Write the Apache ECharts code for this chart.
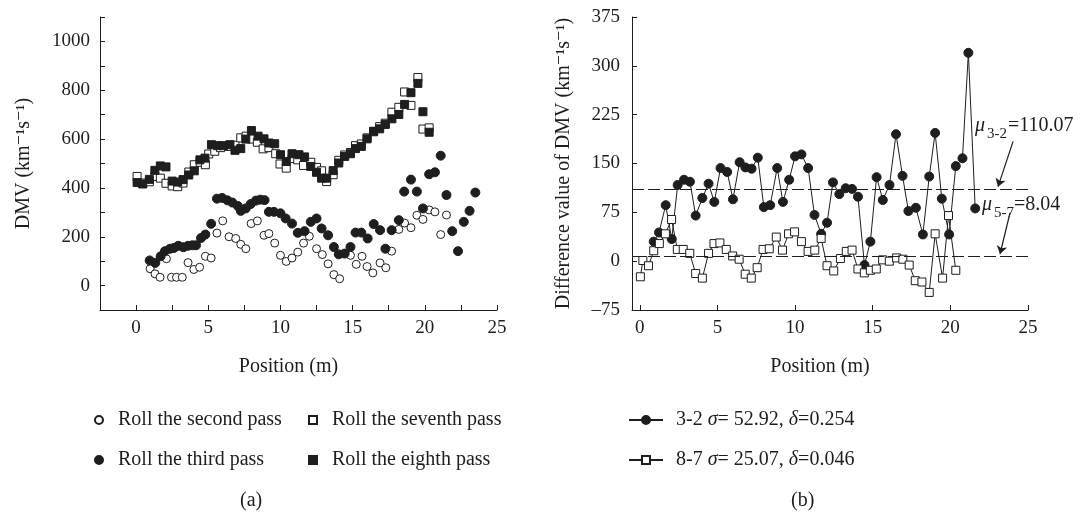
<!DOCTYPE html>
<html>
<head>
<meta charset="utf-8">
<script src="https://cdn.jsdelivr.net/npm/echarts@6/dist/echarts.min.js"></script>
<style>
  html, body { margin: 0; padding: 0; background: #fff; }
  #chart { width: 1081px; height: 514px; }
</style>
</head>
<body>
<div id="chart"></div>
<script>
// (a) DMV per pass, [position m, DMV]
const pass2 = [[0.97, 69], [1.31, 48], [1.66, 34], [2.1, 110], [2.45, 34], [2.8, 34], [3.2, 34], [3.6, 94], [4.0, 66], [4.4, 75],
  [4.8, 120], [5.2, 113], [5.6, 215], [6.0, 265], [6.44, 200], [6.9, 193], [7.25, 169], [7.6, 151], [7.97, 254], [8.4, 265],
  [8.86, 206], [9.2, 213], [9.6, 174], [10.0, 124], [10.4, 99], [10.8, 113], [11.2, 137], [11.6, 174], [12.0, 202], [12.5, 151],
  [12.9, 127], [13.3, 89], [13.7, 45], [14.1, 28], [14.85, 124], [15.25, 87], [15.65, 120], [16.0, 78], [16.4, 52], [16.9, 93],
  [17.3, 73], [17.7, 141], [18.2, 230], [18.6, 256], [19.04, 237], [19.45, 288], [19.87, 271], [20.3, 310], [20.7, 302],
  [21.1, 209], [21.5, 289]]
const pass3 = [[0.94, 103], [1.33, 93], [1.7, 120], [2.0, 141], [2.35, 151], [2.62, 154], [2.92, 163], [3.27, 157], [3.6, 163],
  [3.9, 165], [4.15, 165], [4.5, 195], [4.8, 209], [5.2, 253], [5.6, 356], [5.96, 359], [6.33, 349], [6.67, 340], [7.05, 326],
  [7.25, 306], [7.6, 316], [7.94, 334], [8.3, 348], [8.6, 352], [8.9, 350], [9.2, 302], [9.55, 302], [10.0, 296], [10.36, 275],
  [10.8, 254], [11.2, 216], [11.67, 223], [12.1, 261], [12.5, 275], [12.85, 234], [13.3, 206], [13.7, 158], [14.04, 128],
  [14.45, 131], [14.85, 158], [15.2, 217], [15.6, 217], [16.04, 193], [16.46, 252], [16.9, 227], [17.27, 151], [17.7, 227],
  [18.2, 268], [18.57, 385], [19.04, 434], [19.45, 385], [19.87, 316], [20.3, 456], [20.7, 464], [21.1, 532], [21.5, 371],
  [21.9, 223], [22.3, 141], [22.7, 261], [23.1, 306], [23.5, 381]]
const pass7 = [[0.07, 447], [0.46, 420], [0.92, 425], [1.3, 447], [1.68, 440], [2.07, 419], [2.5, 408], [2.88, 405], [3.25, 420],
  [3.65, 465], [4.03, 495], [4.44, 505], [4.8, 495], [5.03, 539], [5.45, 550], [5.85, 565], [6.45, 570], [6.85, 575], [7.25, 605],
  [7.62, 612], [8.0, 600], [8.4, 587], [8.8, 560], [9.2, 565], [9.67, 540], [9.97, 498], [10.4, 481], [10.8, 520], [11.2, 515],
  [11.6, 492], [12.1, 505], [12.5, 484], [12.85, 470], [13.2, 426], [13.65, 454], [14.04, 513], [14.45, 535], [14.85, 545],
  [15.2, 573], [15.6, 580], [16.0, 605], [16.45, 630], [16.87, 651], [17.26, 665], [17.72, 710], [18.2, 730], [18.6, 793],
  [19.04, 738], [19.52, 852], [19.87, 641], [20.3, 646]]
const pass8 = [[0.07, 422], [0.46, 416], [0.92, 435], [1.3, 472], [1.68, 490], [2.07, 486], [2.5, 428], [2.88, 424], [3.25, 434],
  [3.65, 453], [4.03, 470], [4.42, 515], [4.77, 522], [5.22, 577], [5.64, 573], [6.05, 573], [6.5, 577], [6.85, 554], [7.25, 561],
  [7.6, 600], [7.99, 635], [8.45, 612], [8.86, 601], [9.2, 584], [9.6, 581], [10.0, 536], [10.4, 508], [10.8, 540], [11.28, 536],
  [11.67, 527], [12.1, 488], [12.5, 464], [12.85, 440], [13.2, 440], [13.65, 471], [14.04, 502], [14.45, 529], [14.85, 540],
  [15.2, 561], [15.6, 570], [16.0, 601], [16.45, 632], [16.87, 642], [17.26, 660], [17.72, 683], [18.2, 701], [18.6, 742],
  [19.04, 790], [19.52, 828], [19.87, 712], [20.3, 628]]

// (b) difference of DMV, [position m, difference]
const diff32 = [[0.9, 30], [1.24, 44], [1.67, 86], [2.06, 34], [2.44, 117], [2.85, 125], [3.23, 122], [3.6, 70], [4.03, 97],
  [4.43, 119], [4.8, 91], [5.2, 143], [5.63, 137], [6.0, 95], [6.43, 152], [6.8, 144], [7.2, 142], [7.6, 159], [7.99, 83],
  [8.4, 86], [8.85, 143], [9.22, 91], [9.62, 125], [10.0, 161], [10.41, 164], [10.84, 143], [11.25, 71], [11.68, 42],
  [12.06, 59], [12.44, 121], [12.85, 103], [13.26, 112], [13.67, 111], [14.05, 99], [14.47, -6], [14.85, 30], [15.25, 129],
  [15.65, 94], [16.08, 117], [16.5, 195], [16.92, 131], [17.3, 77], [17.78, 82], [18.23, 41], [18.64, 130], [19.02, 197],
  [19.45, 96], [19.92, 41], [20.35, 146], [20.78, 158], [21.16, 320], [21.6, 81]]
const diff87 = [[0.04, -24], [0.2, 1], [0.56, -7], [0.9, 16], [1.26, 27], [1.65, 42], [2.05, 64], [2.42, 18], [2.8, 18],
  [3.22, 12], [3.6, -19], [4.03, -26], [4.43, 12], [4.78, 27], [5.16, 28], [5.57, 18], [5.98, 8], [6.4, 3], [6.79, -20],
  [7.18, -26], [7.56, -10], [7.94, 18], [8.34, 19], [8.79, 37], [9.19, 17], [9.58, 42], [9.97, 45], [10.41, 30], [10.84, 15],
  [11.27, 17], [11.68, 35], [12.06, -7], [12.49, -15], [12.92, 4], [13.3, 15], [13.67, 17], [14.05, -12], [14.46, -18],
  [14.85, -14], [15.23, -12], [15.64, 2], [16.07, 0], [16.54, 5], [16.94, 3], [17.35, -6], [17.74, -30], [18.17, -32],
  [18.64, -48], [19.02, 42], [19.5, -26], [19.88, 70], [20.35, -14]]
const means = [110.07, 8.04]
const meanArrows = [[[24.04, 184], [23.07, 114.4]], [[23.84, 74], [23.2, 11]]]

// axis ticks and labels
const leftXLabels = [0, 5, 10, 15, 20, 25]
const leftXTicks = [0, 2.5, 5, 7.5, 10, 12.5, 15, 17.5, 20, 22.5, 25]
const leftYLabels = [0, 200, 400, 600, 800, 1000]
const leftYTicks = [0, 100, 200, 300, 400, 500, 600, 700, 800, 900, 1000, 1100]
const rightXLabels = [0, 5, 10, 15, 20, 25]

const INK = '#1e1e1e'
const FONT = '"Liberation Serif", "DejaVu Serif", serif'

const chart = echarts.init(document.getElementById('chart'))

const axisBase = (extra) => Object.assign({
  type: 'value',
  splitLine: { show: false },
  axisLine: { show: true, onZero: false, lineStyle: { color: INK, width: 1 } },
  nameTextStyle: { color: INK, fontFamily: FONT, fontSize: 20 }
}, extra)

const tick = (values) => ({ show: true, inside: true, length: 5, customValues: values, lineStyle: { color: INK, width: 1 } })
const label = (values, margin, fmt) => ({
  customValues: values, margin: margin, color: INK, fontFamily: FONT, fontSize: 19,
  formatter: fmt || (v => String(v))
})

const open = { color: '#fff', borderColor: INK, borderWidth: 1, opacity: 1 }
const filled = { color: INK, borderColor: INK, borderWidth: 1, opacity: 1 }

const legendText = { color: INK, fontFamily: FONT, fontSize: 20, lineHeight: 20, padding: [0, 0, 0, 10] }

const option = {
  animation: false,
  grid: [
    { left: 100, top: 17, width: 397, height: 293 },
    { left: 632, top: 17, width: 396, height: 293 }
  ],
  xAxis: [
    axisBase({
      gridIndex: 0, min: -2.5, max: 25,
      axisTick: tick(leftXTicks), axisLabel: label(leftXLabels, 9),
      name: 'Position (m)', nameLocation: 'middle', nameGap: 47,
      nameTextStyle: { color: INK, fontFamily: FONT, fontSize: 20, padding: [0, 20, 0, 0] }
    }),
    axisBase({
      gridIndex: 1, min: -0.5, max: 25,
      axisTick: tick(rightXLabels), axisLabel: label(rightXLabels, 9),
      name: 'Position (m)', nameLocation: 'middle', nameGap: 47,
      nameTextStyle: { color: INK, fontFamily: FONT, fontSize: 20, padding: [0, 20, 0, 0] }
    })
  ],
  yAxis: [
    axisBase({
      gridIndex: 0, min: -100, max: 1100,
      axisTick: tick(leftYTicks), axisLabel: label(leftYLabels, 10),
      name: 'DMV (km\u207B\u00B9s\u207B\u00B9)', nameLocation: 'middle', nameGap: 66
    }),
    axisBase({
      gridIndex: 1, min: -75, max: 375, interval: 75,
      axisTick: { show: true, inside: true, length: 5, lineStyle: { color: INK, width: 1 } },
      axisLabel: { margin: 12, color: INK, fontFamily: FONT, fontSize: 19, formatter: v => v < 0 ? '\u2013' + Math.abs(v) : String(v) },
      name: 'Difference value of DMV (km\u207B\u00B9s\u207B\u00B9)', nameLocation: 'middle', nameGap: 58
    })
  ],
  legend: [
    {
      data: ['Roll the second pass', 'Roll the third pass'], orient: 'vertical', left: 94, top: 410,
      padding: 0, itemGap: 20, itemWidth: 8, itemHeight: 8, selectedMode: false, textStyle: legendText
    },
    {
      data: ['Roll the seventh pass', 'Roll the eighth pass'], orient: 'vertical', left: 308, top: 410,
      padding: 0, itemGap: 20, itemWidth: 8, itemHeight: 8, selectedMode: false, textStyle: legendText
    },
    {
      data: ['3-2', '8-7'], orient: 'vertical', left: 628, top: 410,
      padding: 0, itemGap: 20, itemWidth: 34, itemHeight: 10, selectedMode: false,
      formatter: name => name === '3-2'
        ? '{n|3-2 }{i|\u03C3}{n|= 52.92, }{i|\u03B4}{n|=0.254}'
        : '{n|8-7 }{i|\u03C3}{n|= 25.07, }{i|\u03B4}{n|=0.046}',
      textStyle: {
        color: INK, fontFamily: FONT, fontSize: 20, lineHeight: 20, padding: [0, 0, 0, 8],
        rich: {
          n: { color: INK, fontFamily: FONT, fontSize: 20 },
          i: { color: INK, fontFamily: FONT, fontSize: 20, fontStyle: 'italic' }
        }
      }
    }
  ],
  graphic: [
    { type: 'text', left: 240, top: 491, style: { text: '(a)', fill: INK, font: '20px ' + FONT } },
    { type: 'text', left: 791, top: 491, style: { text: '(b)', fill: INK, font: '20px ' + FONT } },
    { type: 'text', x: 975, y: 126, style: { text: '\u03BC', fill: INK, font: 'italic 20px ' + FONT, verticalAlign: 'middle' } },
    { type: 'text', x: 987, y: 134, style: { text: '3-2', fill: INK, font: '15px ' + FONT, verticalAlign: 'middle' } },
    { type: 'text', x: 1008, y: 126, style: { text: '=110.07', fill: INK, font: '20px ' + FONT, verticalAlign: 'middle' } },
    { type: 'text', x: 982, y: 205, style: { text: '\u03BC', fill: INK, font: 'italic 20px ' + FONT, verticalAlign: 'middle' } },
    { type: 'text', x: 994, y: 213, style: { text: '5-7', fill: INK, font: '15px ' + FONT, verticalAlign: 'middle' } },
    { type: 'text', x: 1014, y: 205, style: { text: '=8.04', fill: INK, font: '20px ' + FONT, verticalAlign: 'middle' } }
  ],
  series: [
    { type: 'scatter', name: 'Roll the second pass', xAxisIndex: 0, yAxisIndex: 0, data: pass2, symbol: 'circle', symbolSize: 8, itemStyle: open },
    { type: 'scatter', name: 'Roll the seventh pass', xAxisIndex: 0, yAxisIndex: 0, data: pass7, symbol: 'rect', symbolSize: 8, itemStyle: open },
    { type: 'scatter', name: 'Roll the third pass', xAxisIndex: 0, yAxisIndex: 0, data: pass3, symbol: 'circle', symbolSize: 9, itemStyle: filled },
    { type: 'scatter', name: 'Roll the eighth pass', xAxisIndex: 0, yAxisIndex: 0, data: pass8, symbol: 'rect', symbolSize: 8, itemStyle: filled },
    {
      type: 'line', name: '3-2', xAxisIndex: 1, yAxisIndex: 1, data: diff32,
      symbol: 'circle', symbolSize: 9, showAllSymbol: true,
      lineStyle: { color: INK, width: 1 }, itemStyle: filled,
      markLine: {
        silent: true, symbol: ['none', 'none'], label: { show: false },
        lineStyle: { color: INK, width: 1, type: [12, 4] },
        data: means.map(v => ({ yAxis: v }))
      }
    },
    {
      type: 'line', name: '8-7', xAxisIndex: 1, yAxisIndex: 1, data: diff87,
      symbol: 'rect', symbolSize: 8, showAllSymbol: true,
      lineStyle: { color: INK, width: 1 }, itemStyle: open,
      markLine: {
        silent: true, symbol: ['none', 'arrow'], symbolSize: 8, label: { show: false },
        lineStyle: { color: INK, width: 1.2, type: 'solid' },
        data: meanArrows.map(a => [{ coord: a[0] }, { coord: a[1] }])
      }
    }
  ]
}

chart.setOption(option)
</script>
</body>
</html>
